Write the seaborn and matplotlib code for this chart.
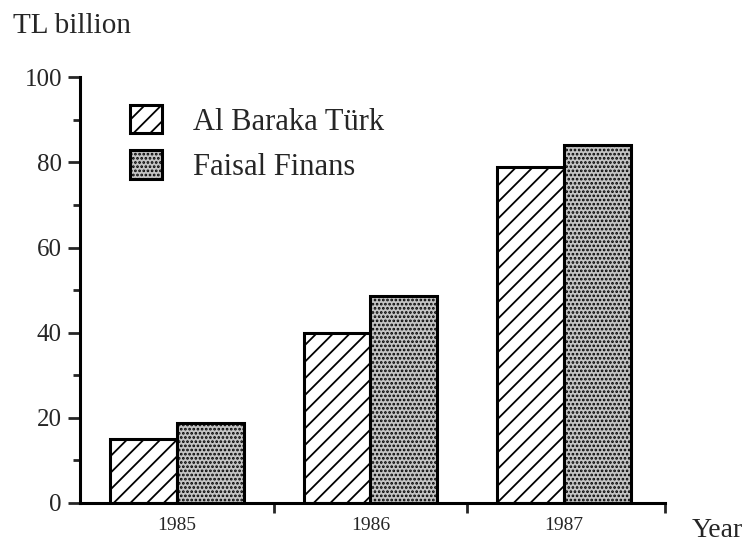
import pandas as pd
import seaborn as sns
import matplotlib.pyplot as plt
from matplotlib.patches import Patch

years = ["1985", "1986", "1987"]
al_baraka = [15, 40, 79]
faisal = [18.8, 48.7, 84.2]
banks = ["Al Baraka Türk", "Faisal Finans"]

df = pd.DataFrame({
    "Year": years * 2,
    "Value": al_baraka + faisal,
    "Bank": [banks[0]] * 3 + [banks[1]] * 3,
})

sns.set_style("white")
plt.rcParams["font.family"] = ["Liberation Serif", "DejaVu Serif"]
plt.rcParams["hatch.linewidth"] = 1.3

fig = plt.figure(figsize=(7.47, 5.5), dpi=100)
ax = fig.add_axes([0.107, 0.0855, 0.783, 0.774])

sns.barplot(data=df, x="Year", y="Value", hue="Bank", ax=ax, width=0.69,
            edgecolor="black", linewidth=2.2, legend=False)

# hatched white bars and stippled grey bars
styles = [("white", "//"), ("#c4c4c4", "....")]
for cont, (fc, h) in zip(ax.containers, styles):
    for bar in cont:
        bar.set_facecolor(fc)
        bar.set_hatch(h)
        bar.set_edgecolor("black")

ax.set_xlim(-0.5, 2.52)
ax.set_ylim(0, 100)
ax.set_xlabel("")
ax.set_ylabel("")

for s in ["top", "right"]:
    ax.spines[s].set_visible(False)
for s in ["left", "bottom"]:
    ax.spines[s].set_linewidth(2.2)
    ax.spines[s].set_color("black")

ax.set_yticks(range(0, 101, 20))
ax.set_yticks(range(10, 100, 20), minor=True)
ax.tick_params(axis="y", which="major", direction="out", length=9, width=2,
               labelsize=18, left=True, pad=4)
ax.tick_params(axis="y", which="minor", direction="out", length=5, width=2, left=True)

ax.set_xticks([0, 1, 2])
ax.set_xticklabels(years)
ax.set_xticks([0.5, 1.5, 2.52], minor=True)
ax.tick_params(axis="x", which="major", length=0, labelsize=14, pad=10)
ax.tick_params(axis="x", which="minor", direction="out", length=7, width=2, bottom=True)

handles = [Patch(facecolor=fc, hatch=h, edgecolor="black", linewidth=2.2) for fc, h in styles]
ax.legend(handles, banks, loc="upper left", bbox_to_anchor=(0.0855, 0.935), frameon=False,
          fontsize=22, handlelength=1.05, handleheight=1.05, labelspacing=0.45,
          handletextpad=1.0, borderpad=0, borderaxespad=0)

fig.text(0.017, 0.953, "TL billion", fontsize=21, ha="left", va="center")
fig.text(0.926, 0.036, "Year", fontsize=20, ha="left", va="center")

fig.savefig("out.png", dpi=100)
